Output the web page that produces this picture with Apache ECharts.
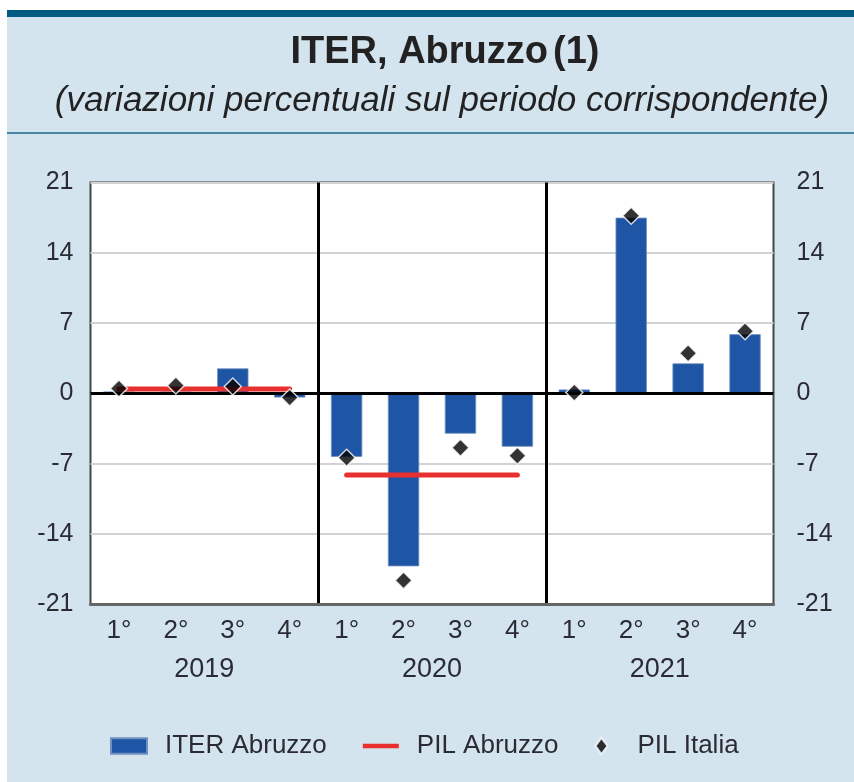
<!DOCTYPE html>
<html>
<head>
<meta charset="utf-8">
<title>ITER, Abruzzo</title>
<script src="https://cdn.jsdelivr.net/npm/echarts@6/dist/echarts.min.js"></script>
<style>
  html, body { margin: 0; padding: 0; background: #fff; }
  #chart { width: 854px; height: 782px; }
</style>
</head>
<body>
<div id="chart"></div>
<script>
// dati
var quarters = ['1°', '2°', '3°', '4°', '1°', '2°', '3°', '4°', '1°', '2°', '3°', '4°'];
var years = ['2019', '2020', '2021'];
var iterAbruzzo = [0.2, 0.2, 2.5, -0.4, -6.3, -17.2, -4.0, -5.3, 0.4, 17.5, 3.0, 5.9];
var pilItalia = [0.5, 0.8, 0.7, -0.4, -6.4, -18.6, -5.4, -6.2, 0.1, 17.7, 4.0, 6.2];
var pilAbruzzoAnnuo = [0.45, -8.1, null];
var yTicks = [-21, 21, 7];

var font = 'Liberation Sans, Arial, sans-serif';
var txt = '#2b2b33';

// una serie per anno, cosi' la linea non collega gli anni
var pilSeries = [];
for (var y = 0; y < years.length; y++) {
    if (pilAbruzzoAnnuo[y] === null) continue;
    var d = [];
    for (var i = 0; i < quarters.length; i++) {
        d.push(Math.floor(i / 4) === y ? pilAbruzzoAnnuo[y] : null);
    }
    pilSeries.push({
        name: 'PIL Abruzzo',
        type: 'line',
        data: d,
        symbol: 'none',
        connectNulls: false,
        z: 4,
        lineStyle: { color: '#e8302e', width: 5, cap: 'round' },
        itemStyle: { color: '#e8302e' }
    });
}

var chart = echarts.init(document.getElementById('chart'));

var option = {
    backgroundColor: '#d3e4ee',
    animation: false,
    textStyle: { fontFamily: font },
    graphic: [
        { type: 'rect', shape: { x: 0, y: 0, width: 854, height: 10 }, style: { fill: '#fff' } },
        { type: 'rect', shape: { x: 0, y: 0, width: 7, height: 782 }, style: { fill: '#fff' } },
        { type: 'rect', shape: { x: 7, y: 10, width: 847, height: 7 }, style: { fill: '#005b80' } },
        { type: 'rect', shape: { x: 7, y: 132, width: 847, height: 2 }, style: { fill: '#4a86a3' } }
    ],
    title: [{
        text: '{b|ITER, Abruzzo} {n|(1)}',
        left: 440,
        textAlign: 'center',
        top: 29,
        textStyle: {
            rich: {
                b: { fontFamily: font, fontSize: 38, fontWeight: 'bold', color: '#222' },
                n: { fontFamily: font, fontSize: 38, color: '#222' }
            }
        }
    }, {
        text: '(variazioni percentuali sul periodo corrispondente)',
        left: 437,
        textAlign: 'center',
        top: 79,
        textStyle: { fontFamily: font, fontSize: 35, fontStyle: 'italic', fontWeight: 'normal', color: '#222' }
    }],
    legend: {
        left: 110,
        top: 733,
        padding: 0,
        itemWidth: 36,
        itemHeight: 16,
        itemGap: 36,
        symbolKeepAspect: true,
        textStyle: { fontFamily: font, fontSize: 26, color: txt, padding: [0, 0, 0, 13] },
        data: [
            { name: 'ITER Abruzzo', icon: 'path://M0,1 L35,1 L35,16 L0,16 Z' },
            { name: 'PIL Abruzzo', icon: 'path://M0,0 L40,0 L40,5 L0,5 Z' },
            { name: 'PIL Italia', icon: 'path://M6,0 L12,8 L6,16 L0,8 Z' }
        ]
    },
    grid: {
        left: 90.5, right: 80.5, top: 182.5, height: 422,
        show: true,
        backgroundColor: '#fff',
        borderColor: '#444',
        borderWidth: 2
    },
    xAxis: [{
        type: 'category',
        data: quarters,
        position: 'bottom',
        axisLine: { onZero: false, lineStyle: { color: '#666', width: 3 } },
        axisTick: { inside: true, length: 9, lineStyle: { color: '#222', width: 2 } },
        axisLabel: { fontSize: 26, color: txt, margin: 13, fontFamily: font },
        splitLine: { show: false }
    }, {
        type: 'category',
        data: years,
        position: 'bottom',
        axisLine: { show: false, onZero: false },
        axisTick: { length: 82, lineStyle: { color: '#777', width: 2 } },
        axisLabel: { fontSize: 27, color: txt, margin: 52, fontFamily: font },
        splitLine: {
            show: true,
            showMinLine: false,
            showMaxLine: false,
            lineStyle: { color: '#000', width: 3 }
        }
    }],
    yAxis: [{
        type: 'value',
        min: yTicks[0], max: yTicks[1], interval: yTicks[2],
        axisLine: { show: false },
        axisTick: { show: false },
        axisLabel: { fontSize: 25, color: txt, margin: 17, fontFamily: font },
        splitLine: { lineStyle: { color: '#d2d2d2', width: 2 } }
    }, {
        type: 'value',
        position: 'right',
        min: yTicks[0], max: yTicks[1], interval: yTicks[2],
        axisLine: { show: false },
        axisTick: { show: false },
        axisLabel: { fontSize: 25, color: txt, margin: 23, fontFamily: font },
        splitLine: { show: false }
    }],
    series: [{
        name: 'ITER Abruzzo',
        type: 'bar',
        data: iterAbruzzo,
        barWidth: '55%',
        z: 2,
        itemStyle: { color: '#1f55a5', borderColor: '#6f8fc0', borderWidth: 0.8 },
        markLine: {
            silent: true,
            symbol: 'none',
            label: { show: false },
            lineStyle: { color: '#000', width: 3, type: 'solid' },
            data: [{ yAxis: 0 }]
        }
    }].concat(pilSeries).concat([{
        name: 'PIL Italia',
        type: 'scatter',
        data: pilItalia,
        symbol: 'diamond',
        symbolSize: 17,
        z: 6,
        itemStyle: { color: '#000', borderColor: '#fff', borderWidth: 1.5 }
    }])
};

chart.setOption(option);
</script>
</body>
</html>
